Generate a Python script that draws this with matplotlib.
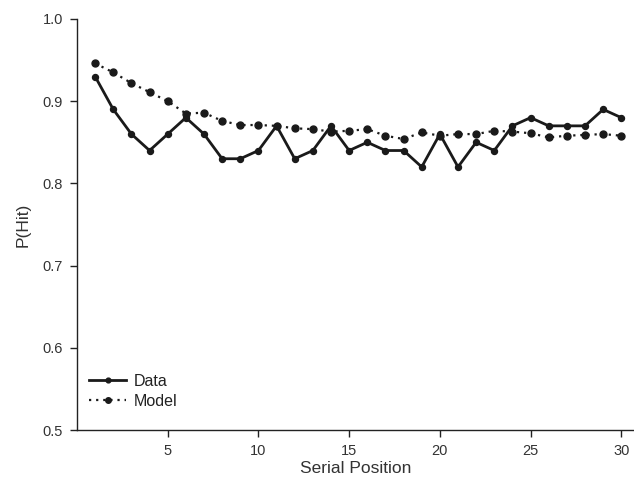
import matplotlib
matplotlib.use("Agg")
import matplotlib.pyplot as plt

positions = list(range(1, 31))
data_vals = [0.93, 0.89, 0.86, 0.84, 0.86, 0.88, 0.86, 0.83, 0.83, 0.84,
             0.87, 0.83, 0.84, 0.87, 0.84, 0.85, 0.84, 0.84, 0.82, 0.86,
             0.82, 0.85, 0.84, 0.87, 0.88, 0.87, 0.87, 0.87, 0.89, 0.88]
model_vals = [0.946, 0.935, 0.922, 0.911, 0.900, 0.885, 0.886, 0.876, 0.871, 0.871,
              0.870, 0.867, 0.866, 0.863, 0.864, 0.866, 0.858, 0.854, 0.862, 0.858,
              0.860, 0.860, 0.864, 0.863, 0.861, 0.856, 0.858, 0.859, 0.860, 0.858]
xticks = [5, 10, 15, 20, 25, 30]
yticks = [0.5, 0.6, 0.7, 0.8, 0.9, 1.0]

plt.rcParams['font.family'] = ['Liberation Sans', 'DejaVu Sans']

fig = plt.figure(figsize=(6.34, 4.95), dpi=100)
ax = fig.add_axes([77/634, 1 - 430/495, 1 - 77/634, (430 - 19)/495])

ax.plot(positions, data_vals, color='#1a1a1a', lw=2.0, marker='o', ms=4.3,
        label='Data', clip_on=False)
ax.plot(positions, model_vals, color='#1a1a1a', lw=1.6, ls=(0, (1, 2.2)),
        marker='o', ms=5.0, label='Model', clip_on=False)

ax.set_xlim(0, 30.7)
ax.set_ylim(0.5, 1.0)
ax.set_xticks(xticks)
ax.set_yticks(yticks)
ax.set_yticklabels([f"{v:.1f}" for v in yticks])
for s in ['top', 'right']:
    ax.spines[s].set_visible(False)
for s in ['left', 'bottom']:
    ax.spines[s].set_linewidth(1.0)
    ax.spines[s].set_color('#222222')
ax.tick_params(direction='out', length=5, width=1.0, colors='#222222',
               labelsize=10.5, labelcolor='#333333', pad=5)

ax.set_xlabel('Serial Position', fontsize=12.5, color='#333333', labelpad=2)
ax.set_ylabel('P(Hit)', fontsize=12.5, color='#333333', labelpad=9)

leg = ax.legend(loc='lower left', bbox_to_anchor=(0.022, 0.052), frameon=False,
                fontsize=11.5, handlelength=2.3, numpoints=1, labelspacing=0.32,
                handletextpad=0.5, borderaxespad=0, borderpad=0, markerscale=0.8)
for t in leg.get_texts():
    t.set_color('#222222')

fig.savefig('out.png', dpi=100)
